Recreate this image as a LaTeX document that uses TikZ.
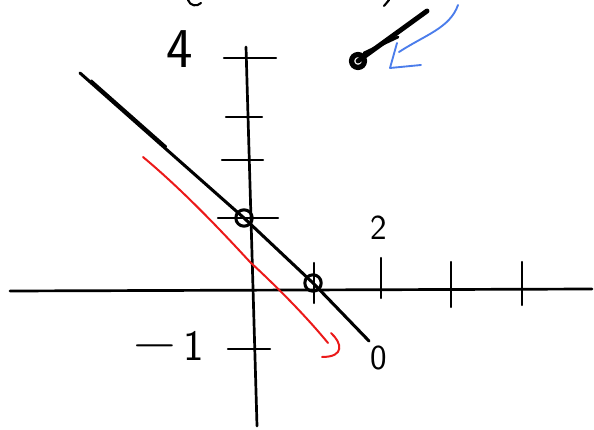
\documentclass[tikz,border=0pt]{standalone}
\usepackage{fontspec}
\usetikzlibrary{positioning, calc}
\definecolor{penblue}{RGB}{75,125,235}
\definecolor{penred}{RGB}{235,25,25}

\begin{document}
\begin{tikzpicture}[x=0.03cm, y=-0.03cm, line cap=round, line join=round,
    pen/.style={line width=2.3pt},
    tacca/.style={line width=2pt},
    ring/.style={circle, draw, line width=2.6pt, inner sep=0pt, minimum size=14pt},
    cifra/.style={inner sep=0pt, font=\sffamily\fontsize{30}{30}\selectfont}]
        \useasboundingbox (0,0) rectangle (594,430);
        %disegno asse x
        \coordinate (xa) at (10,291);
        \coordinate (xb) at (592,289);
        \draw[pen] (xa) -- (xb);
        %disegno asse y
        \coordinate (ya) at (246,47);
        \coordinate (yb) at (257,426);
        \draw[pen] (ya) -- (yb);
        %disegno tacche
        \foreach \y/\a/\b in {58/224/276, 117/226/262, 160/222/263, 218/218/278, 349/228/270}
            \draw[tacca] (\a,\y) -- (\b,\y);
        \foreach \x/\a/\b in {314/263/303, 381/258/298, 451/262/307, 522/262/305}
            \draw[tacca] (\x,\a) -- (\x,\b);
        %disegno numeri
        \node[cifra, font=\sffamily\fontsize{48}{48}\selectfont] (quattro) at (180,49) {4};
        \node[cifra] (due) at (379,228) {2};
        \node[cifra, font=\sffamily\fontsize{37}{37}\selectfont] (menouno) at (169,346)
            {{\fontsize{50}{50}\selectfont −}\hspace{6pt}1};
        \node[cifra] (zero) at (379,358) {0};
        %disegno retta nera
        \coordinate (rtop) at (80,73);
        \coordinate (rend) at (369,341);
        \node[ring] (yint) at (244,218) {};
        \node[ring] (xint) at (313,283) {};
        \draw[line width=2.6pt] (rtop) -- (yint.center) -- (xint.center) -- (rend);
        \draw[line width=1.6pt] (91.3,80.3) -- (166.3,146.6);
        %disegno curva rossa
        \coordinate (ra) at (143,157);
        \coordinate (rb) at (328,343);
        \draw[penred, line width=1.7pt] (ra) .. controls (185,192) and (225,235) .. (250,262)
            .. controls (275,285) and (305,315) .. (rb);
        \draw[penred, line width=1.7pt] (331,333) .. controls (342,343) and (345,357) .. (322,357);
        %disegno punto in alto
        \node[ring, line width=4.5pt, minimum size=11pt] (punto) at (358,61) {};
        \coordinate (tratto) at (427,11);
        \draw[line width=4.2pt] (punto.center) -- (tratto);
        \draw[line width=2.4pt] (364,53) -- (398,37);
        %disegno freccia blu
        \coordinate (ba) at (458,5);
        \coordinate (bb) at (399,52);
        \draw[penblue, line width=1.6pt] (ba) .. controls (450,28) and (425,35) .. (bb);
        \draw[penblue, line width=1.6pt] (397,43) -- (390,68) -- (421,65);
        %tratti tagliati in alto
        \draw[line width=1.8pt] (188,0) .. controls (190,6) and (197,7) .. (201,3);
        \draw[line width=1.8pt] (384,6) -- (389,0);
    \end{tikzpicture}
\end{document}
